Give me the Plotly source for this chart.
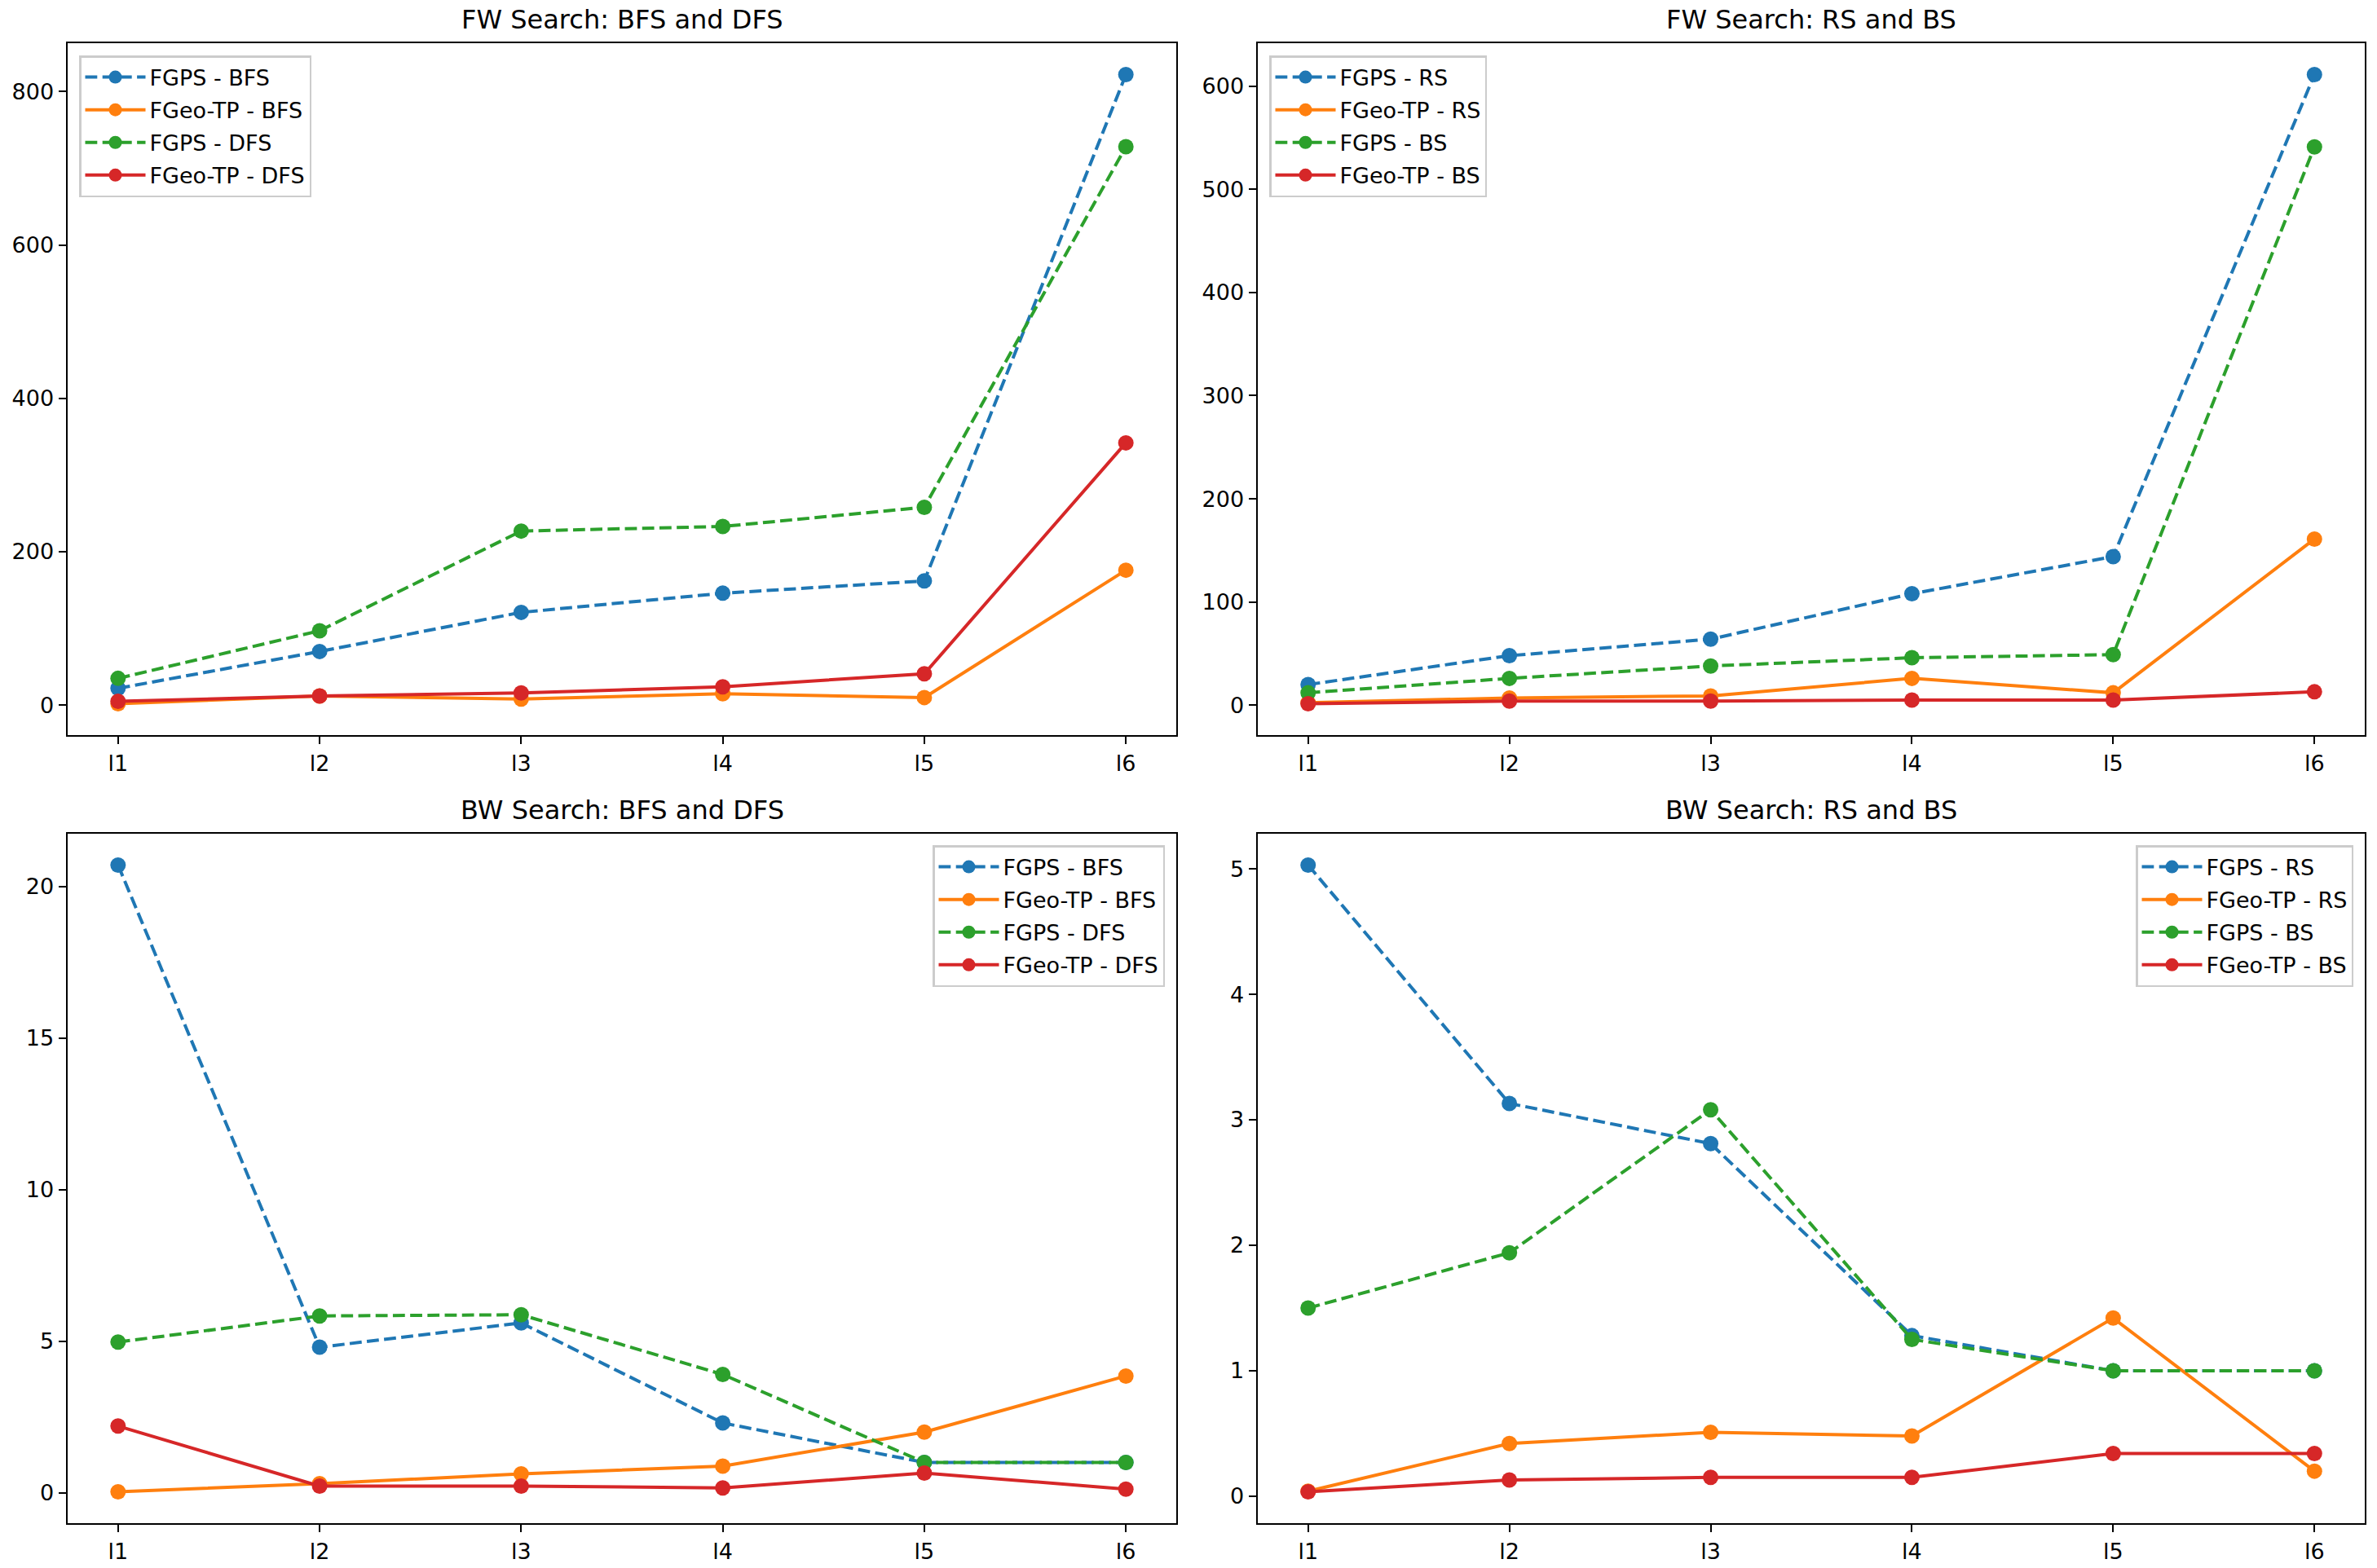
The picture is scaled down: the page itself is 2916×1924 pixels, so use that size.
import plotly.graph_objects as go

# ---------------- data ----------------
levels = ["l1", "l2", "l3", "l4", "l5", "l6"]

# FW Search: BFS and DFS
fw_fgps_bfs = [22, 70, 121, 146, 162, 822]
fw_fgeo_bfs = [2, 12, 8, 15, 10, 176]
fw_fgps_dfs = [35, 97, 227, 233, 258, 728]
fw_fgeo_dfs = [5, 12, 16, 24, 41, 342]

# FW Search: RS and BS
fw_fgps_rs = [20, 48, 64, 108, 144, 611]
fw_fgeo_rs = [2.5, 7, 9, 26, 12, 161]
fw_fgps_bs = [12, 26, 38, 46, 49, 541]
fw_fgeo_bs = [1.5, 4, 4, 5, 5, 13]

# BW Search: BFS and DFS
bw_fgps_bfs = [20.7, 4.8, 5.6, 2.3, 1.0, 1.0]
bw_fgeo_bfs = [0.03, 0.3, 0.62, 0.88, 2.0, 3.85]
bw_fgps_dfs = [4.97, 5.83, 5.87, 3.9, 1.0, 1.0]
bw_fgeo_dfs = [2.2, 0.22, 0.22, 0.16, 0.65, 0.12]

# BW Search: RS and BS
bw_fgps_rs = [5.03, 3.13, 2.81, 1.28, 1.0, 1.0]
bw_fgeo_rs = [0.04, 0.42, 0.51, 0.48, 1.42, 0.2]
bw_fgps_bs = [1.5, 1.94, 3.08, 1.25, 1.0, 1.0]
bw_fgeo_bs = [0.035, 0.13, 0.15, 0.15, 0.34, 0.34]

titles = ["FW Search: BFS and DFS", "FW Search: RS and BS",
          "BW Search: BFS and DFS", "BW Search: RS and BS"]
dticks = [200, 100, 5, 1]

panels = [
    [("FGPS - BFS", fw_fgps_bfs), ("FGeo-TP - BFS", fw_fgeo_bfs),
     ("FGPS - DFS", fw_fgps_dfs), ("FGeo-TP - DFS", fw_fgeo_dfs)],
    [("FGPS - RS", fw_fgps_rs), ("FGeo-TP - RS", fw_fgeo_rs),
     ("FGPS - BS", fw_fgps_bs), ("FGeo-TP - BS", fw_fgeo_bs)],
    [("FGPS - BFS", bw_fgps_bfs), ("FGeo-TP - BFS", bw_fgeo_bfs),
     ("FGPS - DFS", bw_fgps_dfs), ("FGeo-TP - DFS", bw_fgeo_dfs)],
    [("FGPS - RS", bw_fgps_rs), ("FGeo-TP - RS", bw_fgeo_rs),
     ("FGPS - BS", bw_fgps_bs), ("FGeo-TP - BS", bw_fgeo_bs)],
]

# ---------------- style ----------------
W, H = 2916, 1924
colors = ["#1f77b4", "#ff7f0e", "#2ca02c", "#d62728"]
dashes = ["14.8px,6.4px", "solid", "14.8px,6.4px", "solid"]
FONT = "DejaVu Sans"


def fx(px):
    return px / W


def fy(px):
    return 1 - px / H


xdom = [[fx(83), fx(1443)], [fx(1543), fx(2901)]]
ydom = [[fy(902), fy(53)], [fy(1869), fy(1023)]]

fig = go.Figure()
annotations = []
layout = {}

for p in range(4):
    r, c = divmod(p, 2)
    sfx = "" if p == 0 else str(p + 1)
    leg = "legend" if p == 0 else "legend" + str(p + 1)
    allv = []
    for i, (name, vals) in enumerate(panels[p]):
        allv += vals
        fig.add_trace(go.Scatter(
            x=levels, y=vals, name=name, mode="lines+markers",
            line=dict(color=colors[i], width=4, dash=dashes[i]),
            marker=dict(color=colors[i], size=19, line=dict(width=0)),
            xaxis="x" + sfx, yaxis="y" + sfx, legend=leg,
            legendgroup="g%d_%d" % (p, i),
        ))
    lo, hi = min(allv), max(allv)
    pad = (hi - lo) * 0.05
    axis_common = dict(
        showline=True, mirror=True, linecolor="black", linewidth=2.1,
        ticks="outside", ticklen=9.4, tickwidth=2.1, tickcolor="black",
        showgrid=False, zeroline=False, automargin=False,
        tickfont=dict(family=FONT, size=27, color="black"),
    )
    layout["xaxis" + sfx] = dict(
        domain=xdom[c], anchor="y" + sfx, type="category",
        range=[-0.25, 5.25], **axis_common)
    layout["yaxis" + sfx] = dict(
        domain=ydom[r], anchor="x" + sfx, range=[lo - pad, hi + pad],
        dtick=dticks[p], tick0=0, **axis_common)
    annotations.append(dict(
        text=titles[p], xref="paper", yref="paper",
        x=(xdom[c][0] + xdom[c][1]) / 2, y=ydom[r][1] + 8 / H,
        xanchor="center", yanchor="bottom", showarrow=False,
        font=dict(family=FONT, size=32, color="black")))
    leg_common = dict(
        bgcolor="rgba(255,255,255,0.8)", bordercolor="#cccccc", borderwidth=2.5,
        font=dict(family=FONT, size=27, color="black"), itemwidth=74,
        tracegroupgap=2,
        xref="paper", yref="paper", yanchor="top")
    if r == 0:
        layout[leg] = dict(x=xdom[c][0] + 14 / W, y=ydom[r][1] - 15 / H,
                           xanchor="left", **leg_common)
    else:
        layout[leg] = dict(x=xdom[c][1] - 14 / W, y=ydom[r][1] - 14 / H,
                           xanchor="right", **leg_common)

fig.update_layout(
    width=W, height=H, autosize=False,
    margin=dict(l=0, r=0, t=0, b=0),
    paper_bgcolor="white", plot_bgcolor="white",
    annotations=annotations, showlegend=True,
    **layout,
)

fig.write_html("out.html",
               config={"displayModeBar": False},
               post_script="document.body.style.margin='0';"
                           "document.body.style.overflow='hidden';")
